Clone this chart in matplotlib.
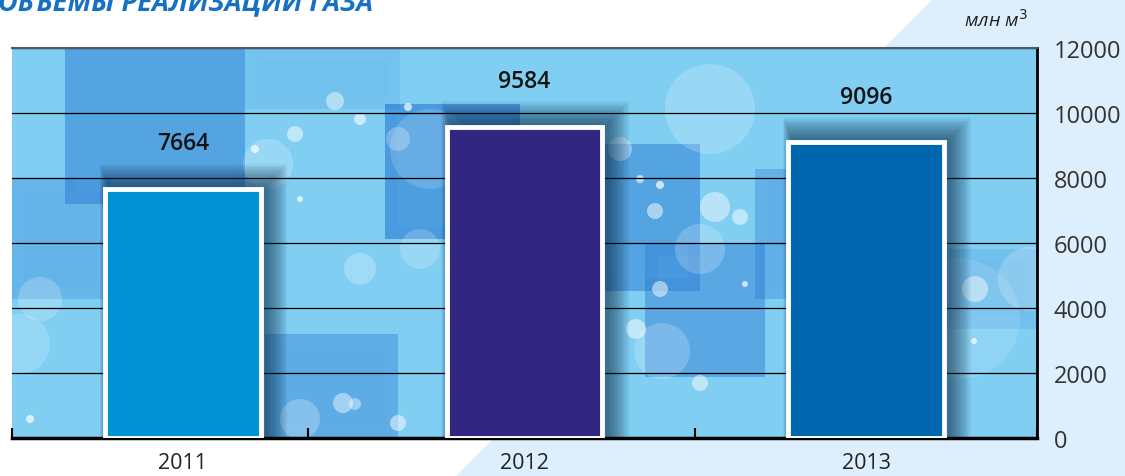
import matplotlib
matplotlib.use("Agg")
import matplotlib.pyplot as plt
from matplotlib.patches import Rectangle, Ellipse, Polygon

plt.rcParams['font.family'] = ['Open Sans', 'DejaVu Sans']

# data
years = ["2011", "2012", "2013"]
volumes = [7664, 9584, 9096]
bar_colors = ["#0093d3", "#312782", "#0066b0"]
yticks = [0, 2000, 4000, 6000, 8000, 10000, 12000]

W, H = 1125, 477
fig = plt.figure(figsize=(W / 100, H / 100), dpi=100)
fig.patch.set_facecolor("white")

# light diagonal panel behind the chart
def fpx(x, y):
    return (x / W, 1 - y / H)

bg = fig.add_axes([0, 0, 1, 1], zorder=0)
bg.axis("off")
bg.set_xlim(0, 1)
bg.set_ylim(0, 1)
bg.add_patch(Polygon([fpx(933, 0), fpx(W, 0), fpx(W, H), fpx(456, H)], closed=True,
                     facecolor="#ddeffc", edgecolor="none"))

L, R, T, B = 12, 1037, 49, 439
ax = fig.add_axes([L / W, 1 - B / H, (R - L) / W, (B - T) / H], zorder=1)
ax.set_facecolor("#80cff3")
aw, ah = R - L, B - T

def apx(x, y):
    return ((x - L) / aw, (B - y) / ah)

# background decoration: soft blue squares and bokeh circles
squares = [(65, 48, 245, 205, 0.45), (385, 105, 520, 240, 0.55), (600, 145, 700, 292, 0.45),
           (645, 245, 765, 378, 0.4), (265, 335, 398, 439, 0.35), (12, 180, 110, 300, 0.25),
           (245, 48, 400, 110, 0.12), (755, 170, 800, 300, 0.3), (900, 250, 1037, 330, 0.15)]
for x0, y0, x1, y1, a in squares:
    ax.add_patch(Rectangle(apx(x0, y1), (x1 - x0) / aw, (y1 - y0) / ah, transform=ax.transAxes,
                           facecolor="#1f6fcf", edgecolor="none", alpha=a, zorder=0.1))
    ax.add_patch(Rectangle(apx(x0 + 12, y1 - 12), (x1 - x0 - 24) / aw, (y1 - y0 - 24) / ah,
                           transform=ax.transAxes, facecolor="#5aaae6", edgecolor="none",
                           alpha=a * 0.5, zorder=0.12))

circles = [(715, 208, 15, 0.45), (740, 218, 8, 0.5), (655, 212, 8, 0.5), (360, 120, 6, 0.6),
           (335, 102, 9, 0.45), (295, 135, 8, 0.5), (268, 165, 25, 0.2), (398, 140, 12, 0.25),
           (408, 108, 4, 0.7), (660, 186, 4, 0.7), (300, 420, 20, 0.25), (343, 404, 10, 0.45),
           (398, 424, 8, 0.5), (30, 420, 4, 0.7), (636, 330, 10, 0.5), (662, 352, 28, 0.2),
           (700, 384, 8, 0.5), (975, 290, 13, 0.45), (974, 342, 3, 0.7), (1030, 280, 32, 0.2),
           (710, 110, 45, 0.2), (620, 150, 12, 0.35), (355, 405, 6, 0.4), (255, 150, 4, 0.7),
           (300, 200, 3, 0.7), (360, 270, 16, 0.25), (420, 250, 20, 0.2), (40, 300, 22, 0.2),
           (20, 345, 30, 0.18), (700, 250, 25, 0.2), (660, 290, 8, 0.5), (590, 400, 5, 0.5),
           (745, 285, 3, 0.7), (640, 180, 4, 0.6), (430, 150, 40, 0.15), (960, 320, 60, 0.12)]
for cx, cy, r, a in circles:
    ax.add_patch(Ellipse(apx(cx, cy), 2 * r / aw, 2 * r / ah, transform=ax.transAxes,
                         facecolor="white", edgecolor="none", alpha=a, zorder=0.3))

x = list(range(len(years)))
bw = 0.455

# soft shadows to the right of each bar
for i, v in enumerate(volumes):
    for k in range(14):
        ax.add_patch(Rectangle((i - bw / 2 + 0.01 - 0.002 * k, 0), bw + 0.01 + 0.0065 * k,
                               v + 120 + 50 * k, facecolor="#0b2a45", edgecolor="none",
                               alpha=0.055, zorder=2))

ax.bar(x, volumes, width=bw, color=bar_colors, edgecolor="white", linewidth=3.5, zorder=3)

for i, v in enumerate(volumes):
    ax.text(i, v + 1400, f"{v}", ha="center", va="center", fontsize=16.5,
            fontweight="semibold", color="#111111", zorder=5)

ax.set_xlim(-0.5, 2.5)
ax.set_ylim(0, 12000)
ax.set_yticks(yticks)
ax.yaxis.tick_right()
ax.tick_params(axis="y", length=0, pad=12, labelsize=17, labelcolor="#333333")
ax.grid(axis="y", color="black", linewidth=0.9)
ax.set_axisbelow(True)
for gl in ax.get_ygridlines():
    gl.set_zorder(1)

ax.set_xticks([-0.5, 0.366, 1.5, 2.5])
ax.set_xticklabels([])
ax.tick_params(axis="x", direction="in", length=7, width=1.5, color="black")
ax.set_xticks(x, minor=True)
ax.set_xticklabels(years, minor=True)
ax.tick_params(axis="x", which="minor", length=0, pad=10, labelsize=15.5, labelcolor="#222222")

ax.spines["left"].set_visible(False)
ax.spines["top"].set_color("#4a5a66")
ax.spines["top"].set_linewidth(1.5)
ax.spines["right"].set_linewidth(2)
ax.spines["bottom"].set_linewidth(2.5)

fig.text(-0.002, 1 - 10 / H, "ОБЪЕМЫ РЕАЛИЗАЦИИ ГАЗА", ha="left", va="baseline",
         fontsize=19.5, fontweight="bold", fontstyle="italic", color="#1670c4")
fig.text(996 / W, 1 - 20 / H, "млн м$^3$", ha="center", va="center", fontsize=14,
         fontstyle="italic", color="#222222")

fig.savefig("out.png", dpi=100, facecolor=fig.get_facecolor())
